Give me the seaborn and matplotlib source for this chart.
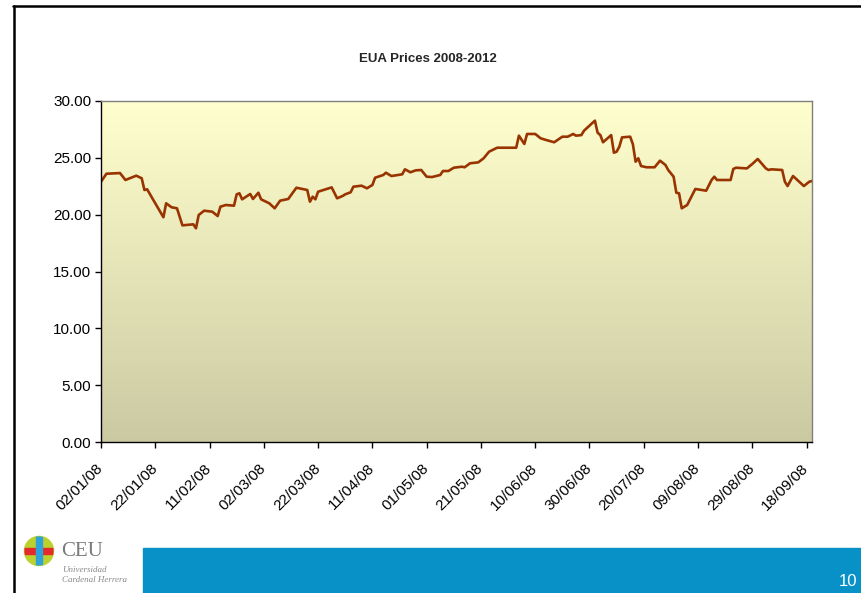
import numpy as np
import pandas as pd
import matplotlib
matplotlib.use('Agg')
import matplotlib.pyplot as plt
import matplotlib.dates as mdates
import matplotlib.transforms as mtransforms
from matplotlib.ticker import FormatStrFormatter
from matplotlib.patches import Rectangle, Circle
from matplotlib.lines import Line2D
import seaborn as sns

# ---------------- data ----------------
dates = [
    "2008-01-02", "2008-01-04", "2008-01-09", "2008-01-11", "2008-01-15", "2008-01-17",
    "2008-01-18", "2008-01-19", "2008-01-25", "2008-01-26", "2008-01-28", "2008-01-30",
    "2008-02-01", "2008-02-05", "2008-02-06", "2008-02-07", "2008-02-09", "2008-02-12",
    "2008-02-14", "2008-02-15", "2008-02-17", "2008-02-20", "2008-02-21", "2008-02-22",
    "2008-02-23", "2008-02-26", "2008-02-27", "2008-02-29", "2008-03-01", "2008-03-04",
    "2008-03-06", "2008-03-08", "2008-03-11", "2008-03-14", "2008-03-18", "2008-03-19",
    "2008-03-20", "2008-03-21", "2008-03-22", "2008-03-27", "2008-03-29", "2008-03-31",
    "2008-04-01", "2008-04-03", "2008-04-04", "2008-04-07", "2008-04-09", "2008-04-11",
    "2008-04-12", "2008-04-15", "2008-04-16", "2008-04-18", "2008-04-22", "2008-04-23",
    "2008-04-25", "2008-04-27", "2008-04-29", "2008-05-01", "2008-05-03", "2008-05-06",
    "2008-05-07", "2008-05-09", "2008-05-11", "2008-05-14", "2008-05-15", "2008-05-17",
    "2008-05-20", "2008-05-22", "2008-05-24", "2008-05-27", "2008-06-03", "2008-06-04",
    "2008-06-06", "2008-06-07", "2008-06-10", "2008-06-12", "2008-06-14", "2008-06-17",
    "2008-06-20", "2008-06-22", "2008-06-24", "2008-06-25", "2008-06-27", "2008-06-28",
    "2008-07-02", "2008-07-03", "2008-07-04", "2008-07-05", "2008-07-08", "2008-07-09",
    "2008-07-10", "2008-07-11", "2008-07-12", "2008-07-15", "2008-07-16", "2008-07-17",
    "2008-07-18", "2008-07-19", "2008-07-21", "2008-07-24", "2008-07-26", "2008-07-28",
    "2008-07-29", "2008-07-31", "2008-08-01", "2008-08-02", "2008-08-03", "2008-08-05",
    "2008-08-08", "2008-08-12", "2008-08-14", "2008-08-15", "2008-08-16", "2008-08-21",
    "2008-08-22", "2008-08-23", "2008-08-27", "2008-08-29", "2008-08-31", "2008-09-03",
    "2008-09-04", "2008-09-05", "2008-09-09", "2008-09-10", "2008-09-11", "2008-09-13",
    "2008-09-17", "2008-09-19", "2008-09-20",
]
prices = [
    22.90, 23.60, 23.66, 23.05, 23.43, 23.20,
    22.17, 22.23, 19.77, 21.00, 20.65, 20.56,
    19.06, 19.15, 18.80, 19.97, 20.35, 20.26,
    19.88, 20.70, 20.85, 20.79, 21.79, 21.88,
    21.35, 21.82, 21.38, 21.93, 21.35, 21.00,
    20.56, 21.23, 21.38, 22.37, 22.17, 21.14,
    21.58, 21.35, 22.02, 22.40, 21.44, 21.64,
    21.79, 21.97, 22.46, 22.55, 22.32, 22.61,
    23.25, 23.49, 23.69, 23.40, 23.55, 23.99,
    23.73, 23.90, 23.93, 23.34, 23.31, 23.49,
    23.84, 23.84, 24.13, 24.22, 24.17, 24.52,
    24.60, 24.96, 25.54, 25.89, 25.89, 26.95,
    26.22, 27.10, 27.10, 26.72, 26.57, 26.37,
    26.86, 26.86, 27.10, 26.95, 27.00, 27.39,
    28.27, 27.21, 27.00, 26.37, 27.00, 25.45,
    25.54, 25.98, 26.80, 26.86, 26.19, 24.66,
    24.96, 24.28, 24.17, 24.17, 24.75, 24.37,
    23.93, 23.34, 21.93, 21.88, 20.56, 20.85,
    22.26, 22.11, 23.05, 23.34, 23.05, 23.05,
    24.02, 24.13, 24.07, 24.46, 24.90, 24.07,
    23.93, 23.99, 23.93, 22.90, 22.52, 23.40,
    22.52, 22.90, 22.96,
]
x_tick_dates = ["2008-01-02", "2008-01-22", "2008-02-11", "2008-03-02", "2008-03-22",
                "2008-04-11", "2008-05-01", "2008-05-21", "2008-06-10", "2008-06-30",
                "2008-07-20", "2008-08-09", "2008-08-29", "2008-09-18"]
y_ticks = [0, 5, 10, 15, 20, 25, 30]
title = "EUA Prices 2008-2012"

# ---------------- style ----------------
sns.set_style('white')
plt.rcParams['font.family'] = ['Liberation Sans', 'DejaVu Sans']

W, H = 861, 593
fig = plt.figure(figsize=(W / 100, H / 100), dpi=100)
fig.patch.set_facecolor('white')

def fx(px):
    return px / W

def fy(py):
    return 1 - py / H

L, R, T, B = 101, 812, 101, 442
rect = [fx(L), fy(B), (R - L) / W, (B - T) / H]

# gradient background
bg = fig.add_axes(rect, zorder=0)
g = np.linspace(0, 1, 256)[:, None, None]
top = np.array([255, 255, 206]) / 255
bot = np.array([203, 201, 162]) / 255
img = top * (1 - g) + bot * g
bg.imshow(img, aspect='auto', extent=[0, 1, 0, 1])
bg.axis('off')

ax = fig.add_axes(rect, zorder=1)
ax.set_facecolor('none')
df = pd.DataFrame({'date': pd.to_datetime(dates), 'price': prices})
sns.lineplot(data=df, x='date', y='price', ax=ax, color='#993300', lw=1.9)

ax.set_xlim(pd.Timestamp('2008-01-02'), pd.Timestamp('2008-09-20'))
ax.set_ylim(0, 30)
ax.set_xticks(pd.to_datetime(x_tick_dates))
ax.xaxis.set_major_formatter(mdates.DateFormatter('%d/%m/%y'))
ax.set_yticks(y_ticks)
ax.yaxis.set_major_formatter(FormatStrFormatter('%.2f'))
ax.set_xlabel('')
ax.set_ylabel('')
ax.grid(False)

ax.tick_params(axis='both', which='major', bottom=True, left=True, direction='out',
               length=4, width=1, color='black', labelsize=11, labelcolor='black')
ax.tick_params(axis='x', pad=10)
ax.tick_params(axis='y', pad=3)
offset = mtransforms.ScaledTranslation(-5 / 100, 0, fig.dpi_scale_trans)
for lab in ax.get_xticklabels():
    lab.set_rotation(45)
    lab.set_ha('right')
    lab.set_va('top')
    lab.set_rotation_mode('anchor')
    lab.set_transform(lab.get_transform() + offset)

for s in ['left', 'bottom']:
    ax.spines[s].set_color('black')
    ax.spines[s].set_linewidth(1.0)
for s in ['top', 'right']:
    ax.spines[s].set_color('#808080')
    ax.spines[s].set_linewidth(1.0)

# title
fig.text(fx(428), fy(59), title, fontsize=9.5, weight='bold', ha='center', va='center')

# slide border
fig.add_artist(Line2D([fx(14), fx(14)], [fy(6), 0], color='black', lw=1.8,
                      transform=fig.transFigure))
fig.add_artist(Line2D([fx(13), 1], [fy(6), fy(6)], color='black', lw=1.8,
                      transform=fig.transFigure))

# blue footer bar
fig.add_artist(Rectangle((fx(143), 0), 1 - fx(143), (H - 548) / H,
                         transform=fig.transFigure, color='#0891C7', zorder=2))
fig.text(fx(848), fy(581), '10', color='white', fontsize=12, ha='center', va='center', zorder=3)

# logo
la = fig.add_axes([fx(22), fy(567), 34 / W, 32 / H])
la.set_xlim(-1.1, 1.1)
la.set_ylim(-1.1, 1.1)
la.set_aspect('equal')
la.axis('off')
circ = Circle((0, 0), 1, color='#BDD12E')
la.add_patch(circ)
red = Rectangle((-1.1, -0.22), 2.2, 0.44, color='#E42B2B')
la.add_patch(red)
red.set_clip_path(circ)
blue = Rectangle((-0.2, -1.1), 0.4, 2.2, color='#2EA2DA')
la.add_patch(blue)
blue.set_clip_path(circ)

fig.text(fx(61), fy(551), 'CEU', family=['Liberation Serif', 'DejaVu Serif'], fontsize=15,
         color='#7a7a7a', va='center', ha='left')
fig.text(fx(62), fy(570), 'Universidad', family=['Liberation Serif', 'DejaVu Serif'],
         fontsize=6.5, style='italic', color='#8a8a8a', va='center', ha='left')
fig.text(fx(62), fy(580), 'Cardenal Herrera', family=['Liberation Serif', 'DejaVu Serif'],
         fontsize=6.5, style='italic', color='#8a8a8a', va='center', ha='left')

fig.savefig('out.png', dpi=100)
